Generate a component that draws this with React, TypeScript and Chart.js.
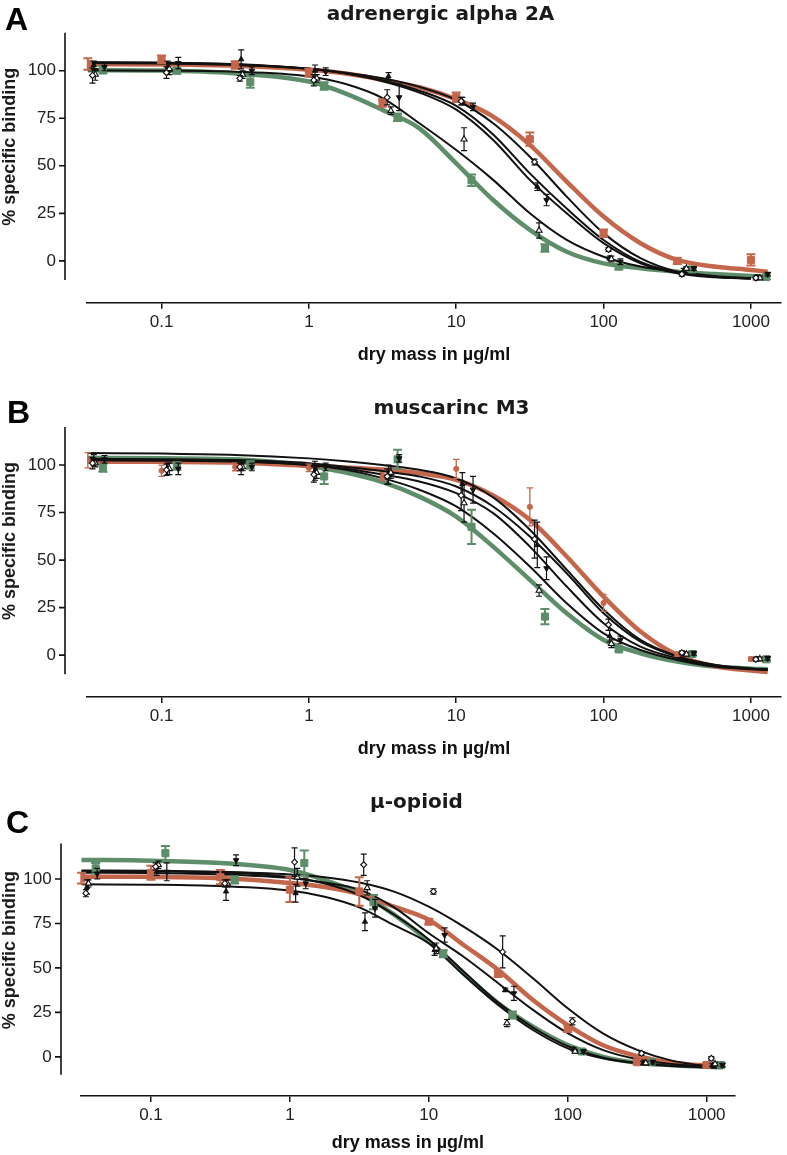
import React, { useEffect, useRef } from 'react';
import { Chart, registerables } from 'chart.js';

Chart.register(...registerables);

// ---------- colours ----------
const ORANGE = '#C3664B';
const GREEN = '#5D8D69';
const BLACK = '#111111';

// ---------- axes ----------
const X_TICKS = [0.1, 1, 10, 100, 1000];
const Y_TICKS = [0, 25, 50, 75, 100];
const X_MIN = 0.0312;
const X_MAX = 1600;
const Y_MIN = -22;
const Y_MAX = 120;
const Y_AXIS_TOP = 120;
const Y_AXIS_BOTTOM = -10;
const Y_TITLE_CENTER = 60;

// ---------- concentrations (µg/ml) of the measured points ----------
const CONC_ORANGE = [0.0316, 0.1, 0.316, 1, 3.16, 10, 31.6, 100, 316, 1000];
const CONC_GREEN = [0.04, 0.127, 0.4, 1.27, 4.0, 12.7, 40, 127, 400, 1270];
const CONC_DIAMOND = [0.034, 0.108, 0.34, 1.08, 3.4, 10.8, 34, 108, 340, 1080];
const CONC_TRI_UP = [0.0355, 0.113, 0.355, 1.13, 3.6, 11.3, 36.5, 113, 365, 1150];
const CONC_TRI_FILLED = [0.0347, 0.11, 0.347, 1.1, 3.47, 11, 35.5, 110, 350, 1100];
const CONC_TRI_DOWN = [0.041, 0.13, 0.41, 1.3, 4.1, 13, 41, 130, 410, 1300];

// concentrations at which the fitted curves were read
const FIT_X = [0.0316, 0.1, 0.316, 1, 1.78, 3.16, 5.62, 10, 17.8, 31.6, 56.2, 100, 178, 316, 562, 1000, 1300];

// ---------- Panel A: adrenergic alpha 2A ----------
const A_ORANGE = [103.5, 106, 103, 99, 83, 86, 64, 14.5, 0, 0.5];
const A_ORANGE_ERR = [3, 2, 2, 2, 2, 2.5, 3.5, 2, 1.5, 3];
const A_GREEN = [100.5, 100, 94, 92, 75.5, 42.4, 6.8, -3, -4.5, -8.5];
const A_GREEN_ERR = [2, 1.5, 3, 2, 2, 3, 2, 1.5, 1, 1];
const A_DIAMOND = [97.5, 99, 96, 95, 86, 84, 52, 6, -7, -9];
const A_DIAMOND_ERR = [4, 3, 1.5, 3, 4, 2, 1.5, 1, 1, 1];
const A_TRI_UP = [98, 101, 98, 96, 79, 64, 16, 1, -4, -9];
const A_TRI_UP_ERR = [3, 3, 2, 2, 2, 6, 4, 1.5, 1, 1];
const A_TRI_FILLED = [103, 102, 106, 100, 97, 84, 39, 1.5, -5, -8.5];
const A_TRI_FILLED_ERR = [2, 3, 5, 3, 2, 2, 2, 1, 1, 1];
const A_TRI_DOWN = [102, 104, 100, 99.5, 86, 81, 32, -0.5, -4, -7];
const A_TRI_DOWN_ERR = [2, 3, 2, 2, 7, 2, 3, 1.5, 1, 1];

// black fits in panel A stop at 1000 (null = no curve drawn there)
const A_ORANGE_FIT = [103.5, 103.3, 102.6, 100.5, 98.5, 95.2, 91.3, 85, 75.9, 61, 41.7, 23.3, 9.3, 0.5, -3, -4.8, -5.7];
const A_GREEN_FIT = [100.3, 100.1, 98.6, 94.3, 88, 79.4, 69.7, 51.3, 32, 16.3, 4.8, -1.3, -3.9, -5.7, -6.9, -7.9, -8.3];
const A_DIAMOND_FIT = [104, 103.8, 103, 101, 99, 96, 91.5, 84.6, 72.4, 54.8, 33.8, 14.6, 1.4, -5.7, -8.3, -9.2, null];
const A_TRI_UP_FIT = [100.2, 100, 99.5, 97, 93, 85.6, 72.4, 58.3, 42.6, 25, 11, 2.2, -3, -5.7, -7.9, -9.2, null];
const A_TRI_FILLED_FIT = [104.5, 104.3, 103.5, 101, 98.5, 94.5, 88.5, 79.5, 63.6, 42.6, 25, 9.3, -1.3, -6.5, -8.6, -9.4, null];
const A_TRI_DOWN_FIT = [104.3, 104.1, 103.3, 101, 98.7, 95, 89.5, 81.5, 66.5, 46, 27.5, 11, -0.5, -6, -8.4, -9.3, null];

// ---------- Panel B: muscarinc M3 ----------
const B_ORANGE = [102.5, 97, 99, 98.5, 94, 98, 78, 27.5, 0.5, -2];
const B_ORANGE_ERR = [4, 3, 2, 2, 2, 5, 10, 4.5, 1, 1];
const B_GREEN = [98.5, 99.5, 100, 94, 103, 67.5, 20.3, 3, 0.6, -2.2];
const B_GREEN_ERR = [2, 2, 2, 4, 5, 9, 4, 1, 1, 1];
const B_DIAMOND = [101, 97.5, 99, 95, 94, 84, 61, 16, 1.3, -2.2];
const B_DIAMOND_ERR = [3, 3, 2, 4, 4, 8, 10, 3, 1, 1];
const B_TRI_UP = [101, 98, 99, 96, 96, 80, 34, 6, 0.5, -2];
const B_TRI_UP_ERR = [2, 3, 2, 3, 3, 10, 3, 2, 1, 1];
const B_TRI_FILLED = [102.5, 98, 98, 97, 95, 90, 58, 10, 0.8, -2];
const B_TRI_FILLED_ERR = [3, 3, 3, 5, 5, 6, 12, 3, 1, 1];
const B_TRI_DOWN = [103, 98, 99, 99, 103.5, 87, 45.7, 8, 1, -1.6];
const B_TRI_DOWN_ERR = [2, 3, 2, 2, 2, 7, 6, 2, 1, 1];

const B_ORANGE_FIT = [101.8, 101.7, 101.3, 99.5, 98.7, 97.6, 95.7, 92.2, 84, 71.2, 51.9, 30.8, 12.4, 0.1, -5.7, -8.1, -8.8];
const B_GREEN_FIT = [103.7, 103.5, 103, 99.5, 96, 91, 83.4, 72.9, 57.1, 39.6, 22, 8, 1, -3.4, -6, -7.1, -7.4];
const B_DIAMOND_FIT = [106.3, 106, 105.3, 103.5, 102, 100, 97.5, 93, 83, 66, 45, 24, 8, -0.5, -5, -7, -7.5];
const B_TRI_UP_FIT = [103, 102.8, 102.3, 100, 97.5, 93.1, 87, 78.2, 64.1, 46.6, 27.3, 11.5, 2.7, -2.5, -6, -7.4, -7.7];
const B_TRI_FILLED_FIT = [103.3, 103, 102.6, 101, 99, 96.8, 94, 88.7, 78.2, 62.4, 43.1, 22, 7.1, -0.8, -5.2, -7.1, -7.5];
const B_TRI_DOWN_FIT = [102.5, 102.3, 101.8, 100, 98, 95, 91.3, 85.2, 74.7, 57.1, 36.1, 16.8, 4.5, -1.6, -5.7, -7.1, -7.5];

// ---------- Panel C: µ-opioid ----------
const C_ORANGE = [100.5, 103.5, 101, 94, 93, 76, 46.6, 16, -3, -4.5];
const C_ORANGE_ERR = [3, 4, 4, 7, 8, 1.5, 1.5, 2, 1, 1];
const C_GREEN = [106, 114.5, 99.5, 109, 87, 58, 23.5, 3, -3, -4.6];
const C_GREEN_ERR = [3, 4, 2, 7, 4, 2, 2, 1, 1, 1];
const C_DIAMOND = [92, 107, 97.5, 109.5, 108, 93, 59, 20, 2, -0.8];
const C_DIAMOND_ERR = [2, 2, 2, 8, 6, 1.5, 9, 2, 1, 1];
const C_TRI_UP = [97.5, 108, 97.5, 101, 95, 61, 19, 3, -3.5, -4];
const C_TRI_UP_ERR = [2, 2, 2, 5, 4, 3, 2, 1, 1, 1];
const C_TRI_FILLED = [95.5, 104, 93, 92, 76, 60, 37.6, 4.3, -3.5, -4.6];
const C_TRI_FILLED_ERR = [4, 2, 5, 5, 5, 3, 1, 1, 1, 1];
const C_TRI_DOWN = [103, 104, 110.5, 97.5, 83.5, 68.5, 35.7, 3, -3, -4.6];
const C_TRI_DOWN_ERR = [3, 5, 3, 3, 5, 4, 4, 1, 1, 1];

const C_ORANGE_FIT = [101.3, 101.2, 100.5, 97.8, 95.5, 91.5, 84.4, 77, 62.9, 48.8, 32, 17.9, 6.7, 0.5, -3.3, -4.9, -5.5];
const C_GREEN_FIT = [110.7, 110.3, 109, 105, 99.4, 92, 80, 65, 47, 30.1, 17, 6.7, 0.1, -3.3, -4.7, -5.5, -5.9];
const C_DIAMOND_FIT = [104.8, 104.6, 104, 102.5, 101, 98, 92.9, 84.4, 73.2, 60.1, 44.2, 27.3, 13.3, 3.9, -2.1, -5.1, -5.8];
const C_TRI_UP_FIT = [104.5, 104.3, 103.5, 101, 97.5, 91, 80, 66, 48, 30.5, 16.5, 6, -0.3, -3.5, -5, -5.8, -6.2];
const C_TRI_FILLED_FIT = [97, 96.8, 96, 93.5, 90, 84, 74, 63.8, 46, 29.2, 15.1, 4.8, -0.8, -3.6, -5.1, -5.9, -6.2];
const C_TRI_DOWN_FIT = [103.5, 103.3, 102.5, 100.5, 98, 94, 84, 69.5, 56.3, 41.4, 26.4, 13.3, 3.9, -1.3, -4, -5.5, -6];

// ---------- text ----------
const TITLES = ['adrenergic alpha 2A', 'muscarinc M3', 'µ-opioid'];
const LETTERS = ['A', 'B', 'C'];
const X_TITLE = 'dry mass in µg/ml';
const Y_TITLE = '% specific binding';

// ---------- marker styles ----------
type Style = {
  color: string; pointStyle: string; radius: number; rotation: number; fill: string;
  pointBorder: number; lineWidth: number; barWidth: number; capHalf: number; colored: boolean;
};
const STYLE_ORANGE: Style = { color: ORANGE, pointStyle: 'rect', radius: 5, rotation: 0, fill: ORANGE, pointBorder: 1, lineWidth: 4.5, barWidth: 2, capHalf: 4.5, colored: true };
const STYLE_ORANGE_DOT: Style = { color: ORANGE, pointStyle: 'circle', radius: 2.6, rotation: 0, fill: ORANGE, pointBorder: 1, lineWidth: 4.5, barWidth: 1.3, capHalf: 3.2, colored: true };
const STYLE_GREEN: Style = { color: GREEN, pointStyle: 'rect', radius: 5, rotation: 0, fill: GREEN, pointBorder: 1, lineWidth: 4.5, barWidth: 2, capHalf: 4.5, colored: true };
const STYLE_DIAMOND: Style = { color: BLACK, pointStyle: 'rectRot', radius: 3, rotation: 0, fill: '#ffffff', pointBorder: 1.1, lineWidth: 2, barWidth: 1.2, capHalf: 3, colored: false };
const STYLE_TRI_UP: Style = { color: BLACK, pointStyle: 'triangle', radius: 3.5, rotation: 0, fill: '#ffffff', pointBorder: 1.1, lineWidth: 2, barWidth: 1.2, capHalf: 3, colored: false };
const STYLE_TRI_FILLED: Style = { color: BLACK, pointStyle: 'triangle', radius: 3, rotation: 0, fill: BLACK, pointBorder: 1, lineWidth: 2, barWidth: 1.2, capHalf: 3, colored: false };
const STYLE_TRI_DOWN: Style = { color: BLACK, pointStyle: 'triangle', radius: 3.2, rotation: 180, fill: BLACK, pointBorder: 1, lineWidth: 2, barWidth: 1.2, capHalf: 3, colored: false };

type Series = { x: number[]; y: number[]; err: number[]; fit: (number | null)[]; style: Style };

const PANEL_SERIES: Series[][] = [
  [
    { x: CONC_ORANGE, y: A_ORANGE, err: A_ORANGE_ERR, fit: A_ORANGE_FIT, style: STYLE_ORANGE },
    { x: CONC_GREEN, y: A_GREEN, err: A_GREEN_ERR, fit: A_GREEN_FIT, style: STYLE_GREEN },
    { x: CONC_DIAMOND, y: A_DIAMOND, err: A_DIAMOND_ERR, fit: A_DIAMOND_FIT, style: STYLE_DIAMOND },
    { x: CONC_TRI_UP, y: A_TRI_UP, err: A_TRI_UP_ERR, fit: A_TRI_UP_FIT, style: STYLE_TRI_UP },
    { x: CONC_TRI_FILLED, y: A_TRI_FILLED, err: A_TRI_FILLED_ERR, fit: A_TRI_FILLED_FIT, style: STYLE_TRI_FILLED },
    { x: CONC_TRI_DOWN, y: A_TRI_DOWN, err: A_TRI_DOWN_ERR, fit: A_TRI_DOWN_FIT, style: STYLE_TRI_DOWN },
  ],
  [
    { x: CONC_ORANGE, y: B_ORANGE, err: B_ORANGE_ERR, fit: B_ORANGE_FIT, style: STYLE_ORANGE_DOT },
    { x: CONC_GREEN, y: B_GREEN, err: B_GREEN_ERR, fit: B_GREEN_FIT, style: STYLE_GREEN },
    { x: CONC_DIAMOND, y: B_DIAMOND, err: B_DIAMOND_ERR, fit: B_DIAMOND_FIT, style: STYLE_DIAMOND },
    { x: CONC_TRI_UP, y: B_TRI_UP, err: B_TRI_UP_ERR, fit: B_TRI_UP_FIT, style: STYLE_TRI_UP },
    { x: CONC_TRI_FILLED, y: B_TRI_FILLED, err: B_TRI_FILLED_ERR, fit: B_TRI_FILLED_FIT, style: STYLE_TRI_FILLED },
    { x: CONC_TRI_DOWN, y: B_TRI_DOWN, err: B_TRI_DOWN_ERR, fit: B_TRI_DOWN_FIT, style: STYLE_TRI_DOWN },
  ],
  [
    { x: CONC_ORANGE, y: C_ORANGE, err: C_ORANGE_ERR, fit: C_ORANGE_FIT, style: STYLE_ORANGE },
    { x: CONC_GREEN, y: C_GREEN, err: C_GREEN_ERR, fit: C_GREEN_FIT, style: STYLE_GREEN },
    { x: CONC_DIAMOND, y: C_DIAMOND, err: C_DIAMOND_ERR, fit: C_DIAMOND_FIT, style: STYLE_DIAMOND },
    { x: CONC_TRI_UP, y: C_TRI_UP, err: C_TRI_UP_ERR, fit: C_TRI_UP_FIT, style: STYLE_TRI_UP },
    { x: CONC_TRI_FILLED, y: C_TRI_FILLED, err: C_TRI_FILLED_ERR, fit: C_TRI_FILLED_FIT, style: STYLE_TRI_FILLED },
    { x: CONC_TRI_DOWN, y: C_TRI_DOWN, err: C_TRI_DOWN_ERR, fit: C_TRI_DOWN_FIT, style: STYLE_TRI_DOWN },
  ],
];

// ---------- layout of each panel (pixels) ----------
type Layout = {
  top: number; height: number; areaTop: number; areaLeft: number; padRight: number;
  xHeight: number; xTitlePad: number; yGap: number;
  letterX: number; letterY: number; titleX: number; titleY: number; yTitleX: number;
};
const LAYOUTS: Layout[] = [
  { top: 0, height: 385, areaTop: 32.7, areaLeft: 87, padRight: 2, xHeight: 82.3, xTitlePad: 19.2, yGap: 22, letterX: 5, letterY: 30, titleX: 440.5, titleY: 19.5, yTitleX: 10.5 },
  { top: 385, height: 390, areaTop: 42, areaLeft: 87, padRight: 2, xHeight: 78, xTitlePad: 15.2, yGap: 22, letterX: 7, letterY: 38, titleX: 451.5, titleY: 28.5, yTitleX: 10.5 },
  { top: 775, height: 380, areaTop: 68.4, areaLeft: 80.7, padRight: 52, xHeight: 59, xTitlePad: 0.7, yGap: 20, letterX: 6, letterY: 58, titleX: 416.5, titleY: 33, yTitleX: 10.5 },
];

const SANS = '"Liberation Sans", Arial, Helvetica, sans-serif';

const decorPlugin = {
  id: 'panelDecor',
  afterDraw(chart: any, _args: any, opts: any) {
    const { ctx, chartArea } = chart;
    const ys = chart.scales.y;
    const x0 = Math.round(chartArea.left - opts.yGap);
    ctx.save();
    ctx.strokeStyle = BLACK;
    ctx.lineWidth = 1.6;
    ctx.beginPath();
    ctx.moveTo(x0, ys.getPixelForValue(Y_AXIS_TOP));
    ctx.lineTo(x0, ys.getPixelForValue(Y_AXIS_BOTTOM));
    for (const t of Y_TICKS) {
      const py = ys.getPixelForValue(t);
      ctx.moveTo(x0 - 6, py);
      ctx.lineTo(x0, py);
    }
    ctx.stroke();

    ctx.fillStyle = '#000';
    ctx.textAlign = 'left';
    ctx.textBaseline = 'alphabetic';
    ctx.font = `bold 32px ${SANS}`;
    ctx.fillText(opts.letter, opts.letterX, opts.letterY);

    ctx.fillStyle = '#1a1a1a';
    ctx.textAlign = 'center';
    ctx.font = 'bold 20px "DejaVu Sans", Verdana, sans-serif';
    ctx.fillText(opts.title, opts.titleX, opts.titleY);

    ctx.translate(opts.yTitleX, ys.getPixelForValue(Y_TITLE_CENTER));
    ctx.rotate(-Math.PI / 2);
    ctx.textAlign = 'center';
    ctx.textBaseline = 'middle';
    ctx.font = `bold 18px ${SANS}`;
    ctx.fillText(Y_TITLE, 0, 0);
    ctx.restore();
  },
};

const errorBarPlugin = {
  id: 'errorBars',
  beforeDatasetDraw(chart: any, args: any) {
    const ds: any = chart.data.datasets[args.index];
    if (!ds.errors) return;
    const { ctx } = chart;
    const ys = chart.scales.y;
    ctx.save();
    ctx.strokeStyle = ds.barColor;
    ctx.lineWidth = ds.barWidth;
    ctx.beginPath();
    args.meta.data.forEach((pt: any, i: number) => {
      const v = ds.data[i].y;
      const e = ds.errors[i];
      const top = ys.getPixelForValue(v + e);
      const bot = ys.getPixelForValue(v - e);
      const x = pt.x;
      ctx.moveTo(x, top);
      ctx.lineTo(x, bot);
      ctx.moveTo(x - ds.capHalf, top);
      ctx.lineTo(x + ds.capHalf, top);
      ctx.moveTo(x - ds.capHalf, bot);
      ctx.lineTo(x + ds.capHalf, bot);
    });
    ctx.stroke();
    ctx.restore();
  },
};

function buildDatasets(series: Series[]) {
  const sets: any[] = [];
  series.forEach((s) => {
    sets.push({
      data: FIT_X.map((x, i) => ({ x, y: s.fit[i] })),
      showLine: true,
      spanGaps: false,
      borderColor: s.style.color,
      borderWidth: s.style.lineWidth,
      pointRadius: 0,
      pointHoverRadius: 0,
      cubicInterpolationMode: 'monotone',
      fill: false,
      order: s.style.colored ? 4 : 3,
    });
  });
  series.forEach((s) => {
    sets.push({
      data: s.x.map((x, i) => ({ x, y: s.y[i] })),
      showLine: false,
      pointStyle: s.style.pointStyle,
      pointRadius: s.style.radius,
      pointHoverRadius: s.style.radius,
      pointRotation: s.style.rotation,
      backgroundColor: s.style.fill,
      borderColor: s.style.color,
      borderWidth: s.style.pointBorder,
      errors: s.err,
      barColor: s.style.color,
      barWidth: s.style.barWidth,
      capHalf: s.style.capHalf,
      order: s.style.colored ? 1 : 0,
    });
  });
  return sets;
}

function Panel({ index }: { index: number }) {
  const ref = useRef<HTMLCanvasElement>(null);
  const L = LAYOUTS[index];
  useEffect(() => {
    if (!ref.current) return;
    const chart = new Chart(ref.current, {
      type: 'scatter',
      data: { datasets: buildDatasets(PANEL_SERIES[index]) },
      options: {
        animation: false,
        responsive: false,
        maintainAspectRatio: false,
        devicePixelRatio: 1,
        events: [],
        layout: { padding: { top: L.areaTop, right: L.padRight, left: 0, bottom: 0 } },
        plugins: {
          legend: { display: false },
          tooltip: { enabled: false },
          title: { display: false },
          panelDecor: {
            letter: LETTERS[index], title: TITLES[index], yGap: L.yGap,
            letterX: L.letterX, letterY: L.letterY, titleX: L.titleX, titleY: L.titleY, yTitleX: L.yTitleX,
          },
        } as any,
        scales: {
          x: {
            type: 'logarithmic',
            min: X_MIN,
            max: X_MAX,
            afterBuildTicks: (s: any) => { s.ticks = X_TICKS.map((v) => ({ value: v })); },
            afterFit: (s: any) => { s.height = L.xHeight; s.paddingLeft = 0; s.paddingRight = 0; },
            grid: { display: true, drawOnChartArea: false, drawTicks: true, tickLength: 6, color: BLACK, lineWidth: 1.5 },
            border: { display: true, color: BLACK, width: 1.5 },
            ticks: {
              autoSkip: false, maxRotation: 0, padding: 3, color: '#222',
              font: { family: SANS, size: 17 },
              callback: (v: any) => String(v),
            },
            title: {
              display: true, text: X_TITLE, color: '#111',
              font: { family: SANS, size: 18, weight: 'bold' },
              padding: { top: 0, bottom: L.xTitlePad },
            },
          },
          y: {
            type: 'linear',
            min: Y_MIN,
            max: Y_MAX,
            afterBuildTicks: (s: any) => { s.ticks = Y_TICKS.map((v) => ({ value: v })); },
            afterFit: (s: any) => { s.width = L.areaLeft; s.paddingTop = 0; s.paddingBottom = 0; },
            grid: { display: false, drawTicks: false },
            border: { display: false },
            ticks: { padding: L.yGap + 9, color: '#222', font: { family: SANS, size: 17 } },
          },
        },
      } as any,
      plugins: [errorBarPlugin, decorPlugin],
    });
    return () => chart.destroy();
  }, [index]);
  return (
    <canvas
      ref={ref}
      width={787}
      height={L.height}
      style={{ position: 'absolute', left: 0, top: L.top, width: 787, height: L.height, display: 'block' }}
    />
  );
}

export default function App() {
  return (
    <div style={{ position: 'absolute', left: 0, top: 0, width: 787, height: 1155, background: '#ffffff', overflow: 'hidden' }}>
      <Panel index={0} />
      <Panel index={1} />
      <Panel index={2} />
    </div>
  );
}
